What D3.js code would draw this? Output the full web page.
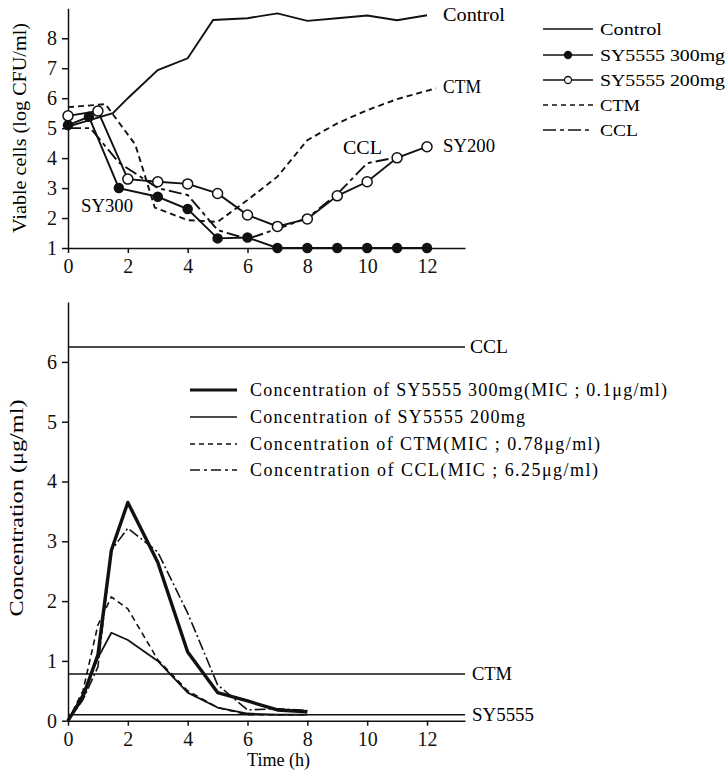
<!DOCTYPE html>
<html>
<head>
<meta charset="utf-8">
<script src="https://cdn.jsdelivr.net/npm/d3@7"></script>
<style>
  body { margin: 0; background: #fff; }
  svg { font-family: "Liberation Serif", "DejaVu Serif", serif; }
  .domain, .tick line { stroke: #111; stroke-width: 1.5; }
</style>
</head>
<body>
<div id="chart"></div>
<script>
// ---- top chart data : viable cells (log CFU/ml) ----
var ctrlTime = [0, 1.5, 2, 3, 4, 4.85, 6, 7, 8, 9, 10, 11, 12];
var ctrlVals = [5.05, 5.5, 6.0, 6.94, 7.33, 8.61, 8.67, 8.83, 8.58, 8.67, 8.76, 8.6, 8.77];

var sy300Time = [0, 0.7, 1.7, 3, 4, 5, 6, 7, 8, 9, 10, 11, 12];
var sy300Vals = [5.1, 5.38, 3.0, 2.71, 2.3, 1.32, 1.35, 1, 1, 1, 1, 1, 1];

var sy200Time = [0, 1, 2, 3, 4, 5, 6, 7, 8, 9, 10, 11, 12];
var sy200Vals = [5.41, 5.57, 3.3, 3.21, 3.14, 2.82, 2.1, 1.72, 1.97, 2.74, 3.21, 4.01, 4.38];

var ctmTime = [0, 1.25, 2.25, 2.9, 4, 5, 6, 7, 8, 9, 10, 11, 12.3];
var ctmVals = [5.7, 5.8, 4.45, 2.35, 1.93, 1.87, 2.6, 3.38, 4.6, 5.16, 5.6, 5.97, 6.33];

var cclTime = [0, 0.75, 1.7, 3, 4, 5, 6, 7, 8, 9, 10, 11];
var cclVals = [5.0, 5.0, 3.85, 3.0, 2.77, 1.6, 1.3, 1.64, 2.0, 2.8, 3.83, 4.03];

var topXTicks = [0, 2, 4, 6, 8, 10, 12];
var topYTicks = [1, 2, 3, 4, 5, 6, 7, 8];

// ---- bottom chart data : concentration (ug/ml) ----
var concTime = [0, 0.5, 1, 1.45, 2, 3, 4, 5, 6, 7, 8];
var concSy300 = [0, 0.4, 1.1, 2.85, 3.65, 2.65, 1.15, 0.47, 0.33, 0.18, 0.15];
var concSy200 = [0, 0.45, 1.05, 1.47, 1.35, 1.0, 0.47, 0.22, 0.12, 0.1, 0.1];
var concCtm = [0, 0.5, 1.6, 2.07, 1.87, 1.02, 0.5, 0.22, 0.1, 0.1, 0.1];
var concCcl = [0, 0.35, 0.9, 2.85, 3.22, 2.82, 1.8, 0.6, 0.18, 0.2, 0.17];

// MIC reference lines
var micNames = ["CCL", "CTM", "SY5555"];
var micVals = [6.25, 0.78, 0.1];

var botXTicks = [0, 2, 4, 6, 8, 10, 12];
var botYTicks = [0, 1, 2, 3, 4, 5, 6];

var width = 725, height = 772;

var svg = d3.select("#chart").append("svg")
  .attr("width", width)
  .attr("height", height);

// scales
var x = d3.scaleLinear().domain([0, 13.27]).range([68, 465]);
var yTop = d3.scaleLinear().domain([1, 9]).range([248, 8.3]);
var yBot = d3.scaleLinear().domain([0, 7]).range([720.7, 302.1]);

function pts(t, v) {
  return t.map(function(d, i) { return [d, v[i]]; });
}

// axis font: d3 puts sans-serif on the group, swap it for the serif face
function serifAxis(g) {
  g.attr("font-family", "Liberation Serif, serif")
    .attr("font-size", 20);
  g.selectAll("text").attr("fill", "#111");
}

// ================= top chart =================
svg.append("g")
  .attr("transform", "translate(0," + yTop(1) + ")")
  .call(d3.axisBottom(x).tickValues(topXTicks).tickFormat(d3.format("d"))
    .tickSize(5).tickPadding(6).tickSizeOuter(0))
  .call(serifAxis);

svg.append("g")
  .attr("transform", "translate(" + x(0) + ",0)")
  .call(d3.axisLeft(yTop).tickValues(topYTicks).tickFormat(d3.format("d"))
    .tickSize(6).tickPadding(5).tickSizeOuter(0))
  .call(serifAxis);

var lineTop = d3.line()
  .x(function(d) { return x(d[0]); })
  .y(function(d) { return yTop(d[1]); });

var topSeries = [
  { t: ctrlTime, v: ctrlVals, dash: null, marker: null },
  { t: ctmTime, v: ctmVals, dash: "6,4", marker: null },
  { t: cclTime, v: cclVals, dash: "13,4,4,4", marker: null },
  { t: sy300Time, v: sy300Vals, dash: null, marker: "filled" },
  { t: sy200Time, v: sy200Vals, dash: null, marker: "open" }
];

topSeries.forEach(function(s) {
  svg.append("path")
    .datum(pts(s.t, s.v))
    .attr("d", lineTop)
    .attr("fill", "none")
    .attr("stroke", "#111")
    .attr("stroke-width", 1.9)
    .attr("stroke-dasharray", s.dash);
  if (s.marker) {
    svg.selectAll(null)
      .data(pts(s.t, s.v))
      .enter().append("circle")
      .attr("cx", function(d) { return x(d[0]); })
      .attr("cy", function(d) { return yTop(d[1]); })
      .attr("r", s.marker == "open" ? 5 : 4.5)
      .attr("fill", s.marker == "open" ? "#fff" : "#111")
      .attr("stroke", "#111")
      .attr("stroke-width", 1.5);
  }
});

// curve labels on the top chart
var topLabels = [
  { text: "Control", x: 443, y: 21, w: 62 },
  { text: "CTM", x: 443, y: 93, w: 38 },
  { text: "SY200", x: 443, y: 152, w: 52 },
  { text: "CCL", x: 343, y: 154, w: 39 },
  { text: "SY300", x: 81, y: 212, w: 52 }
];
topLabels.forEach(function(l) {
  svg.append("text")
    .attr("x", l.x).attr("y", l.y)
    .attr("font-size", 18)
    .attr("textLength", l.w).attr("lengthAdjust", "spacingAndGlyphs")
    .text(l.text);
});

// top legend
var topLegend = [
  { text: "Control", dash: null, marker: null, w: 62 },
  { text: "SY5555  300mg", dash: null, marker: "filled", w: 125 },
  { text: "SY5555  200mg", dash: null, marker: "open", w: 125 },
  { text: "CTM", dash: "5,4", marker: null, w: 40 },
  { text: "CCL", dash: "13,4,4,4", marker: null, w: 38 }
];
var legY = [29, 55, 80, 105, 130];
topLegend.forEach(function(l, i) {
  var g = svg.append("g").attr("transform", "translate(0," + legY[i] + ")");
  g.append("line")
    .attr("x1", 543).attr("x2", 593)
    .attr("stroke", "#111").attr("stroke-width", 1.7)
    .attr("stroke-dasharray", l.dash);
  if (l.marker) {
    g.append("circle")
      .attr("cx", 568).attr("cy", 0)
      .attr("r", 3.5)
      .attr("fill", l.marker == "open" ? "#fff" : "#111")
      .attr("stroke", "#111").attr("stroke-width", 1.3);
  }
  g.append("text")
    .attr("x", 600).attr("y", 6)
    .attr("font-size", 17)
    .attr("textLength", l.w).attr("lengthAdjust", "spacingAndGlyphs")
    .text(l.text);
});

svg.append("text")
  .attr("transform", "translate(26,128) rotate(-90)")
  .attr("text-anchor", "middle")
  .attr("font-size", 18)
  .attr("textLength", 210).attr("lengthAdjust", "spacingAndGlyphs")
  .text("Viable cells (log CFU/ml)");

// ================= bottom chart =================
svg.append("g")
  .attr("transform", "translate(0," + yBot(0) + ")")
  .call(d3.axisBottom(x).tickValues(botXTicks).tickFormat(d3.format("d"))
    .tickSize(5).tickPadding(6).tickSizeOuter(0))
  .call(serifAxis);

svg.append("g")
  .attr("transform", "translate(" + x(0) + ",0)")
  .call(d3.axisLeft(yBot).tickValues(botYTicks).tickFormat(d3.format("d"))
    .tickSize(6).tickPadding(5).tickSizeOuter(0))
  .call(serifAxis);

// MIC lines
micVals.forEach(function(v, i) {
  svg.append("line")
    .attr("x1", x(0)).attr("x2", 465)
    .attr("y1", yBot(v)).attr("y2", yBot(v))
    .attr("stroke", "#111").attr("stroke-width", 1.4);
  svg.append("text")
    .attr("x", i == 0 ? 470 : 472).attr("y", yBot(v) + 6)
    .attr("font-size", 18)
    .attr("textLength", [38, 40, 62][i]).attr("lengthAdjust", "spacingAndGlyphs")
    .text(micNames[i]);
});

var lineBot = d3.line()
  .x(function(d) { return x(d[0]); })
  .y(function(d) { return yBot(d[1]); });

var botSeries = [
  { v: concSy200, w: 1.8, dash: null },
  { v: concCtm, w: 1.6, dash: "6,4" },
  { v: concCcl, w: 1.6, dash: "11,3,2,3" },
  { v: concSy300, w: 3.4, dash: null }
];
botSeries.forEach(function(s) {
  svg.append("path")
    .datum(pts(concTime, s.v))
    .attr("d", lineBot)
    .attr("fill", "none")
    .attr("stroke", "#111")
    .attr("stroke-width", s.w)
    .attr("stroke-linejoin", "round")
    .attr("stroke-dasharray", s.dash);
});

// bottom legend
var botLegend = [
  { text: "Concentration  of  SY5555  300mg(MIC ; 0.1\u03bcg/ml)", w: 3.2, dash: null, len: 417 },
  { text: "Concentration  of  SY5555  200mg", w: 1.6, dash: null, len: 275 },
  { text: "Concentration  of  CTM(MIC ; 0.78\u03bcg/ml)", w: 1.6, dash: "5,4", len: 350 },
  { text: "Concentration  of  CCL(MIC ; 6.25\u03bcg/ml)", w: 1.6, dash: "10,4,3,4", len: 348 }
];
var botLegY = [390, 417, 444, 470];
botLegend.forEach(function(l, i) {
  svg.append("line")
    .attr("x1", 190).attr("x2", 237)
    .attr("y1", botLegY[i]).attr("y2", botLegY[i])
    .attr("stroke", "#111").attr("stroke-width", l.w)
    .attr("stroke-dasharray", l.dash);
  svg.append("text")
    .attr("x", 250).attr("y", botLegY[i] + 6)
    .attr("font-size", 18)
    .attr("textLength", l.len).attr("lengthAdjust", "spacing")
    .text(l.text);
});

svg.append("text")
  .attr("transform", "translate(23,508) rotate(-90)")
  .attr("text-anchor", "middle")
  .attr("font-size", 18)
  .attr("textLength", 217).attr("lengthAdjust", "spacingAndGlyphs")
  .text("Concentration (\u03bcg/ml)");

svg.append("text")
  .attr("x", 247).attr("y", 766)
  .attr("font-size", 18)
  .attr("textLength", 63).attr("lengthAdjust", "spacingAndGlyphs")
  .text("Time (h)");
</script>
</body>
</html>
